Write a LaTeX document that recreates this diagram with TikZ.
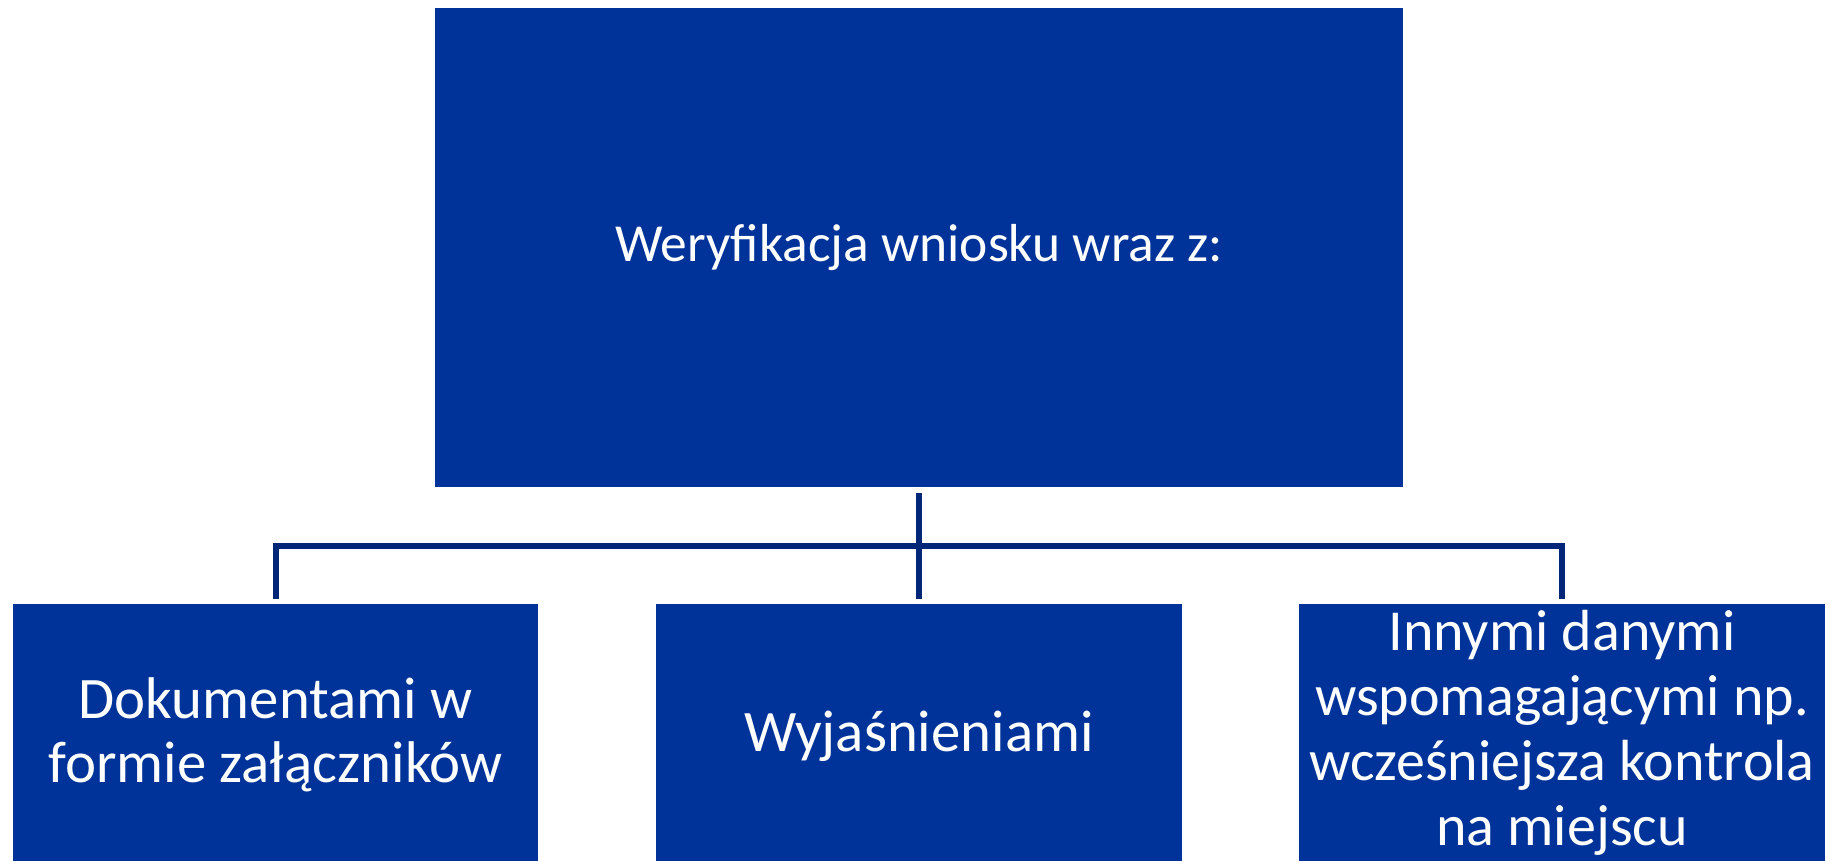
\documentclass[tikz,border=0pt]{standalone}
\usepackage{fontspec}
\setmainfont{Carlito}
\definecolor{boxblue}{RGB}{0,51,153}
\definecolor{lineblue}{RGB}{0,38,120}
\begin{document}
\begin{tikzpicture}[x=1pt,y=-1pt,
  blbox/.style={draw=none,fill=boxblue,rectangle,inner sep=0pt},
  blabel/.style={text=white,align=center,inner sep=0pt},
  conn/.style={draw=lineblue,line width=6pt,line join=miter}]
\clip (0,0) rectangle (1831,861);
\fill[white] (0,0) rectangle (1831,861);
\node[blbox,minimum width=968pt,minimum height=479pt] (top) at (919,247.5) {};
\node[blbox,minimum width=525pt,minimum height=280pt] (b1) at (275.5,744) {};
\node[blbox,minimum width=526pt,minimum height=280pt] (b2) at (919,744) {};
\node[blbox,minimum width=526pt,minimum height=280pt] (b3) at (1562,744) {};
\node[blabel,font=\fontsize{53.5}{64}\selectfont] (ttop) at (919,248) {Weryfikacja wniosku wraz z:};
\node[blabel,font=\fontsize{58.8}{64.5}\selectfont] (tb1) at (275.5,735) {Dokumentami w\\formie załączników};
\node[blabel,font=\fontsize{58.8}{64.5}\selectfont] (tb2) at (919,736) {Wyjaśnieniami};
\node[blabel,font=\fontsize{58}{65}\selectfont] (tb3) at (1562,733) {Innymi danymi\\wspomagającymi np.\\wcześniejsza kontrola\\na miejscu};
\coordinate (hub) at (919,546);
\draw[conn] ([yshift=-6pt]top.south) -- ([yshift=5pt]b2.north);
\draw[conn] ([yshift=5pt]b1.north) |- (hub) -| ([yshift=5pt]b3.north);
\end{tikzpicture}
\end{document}
